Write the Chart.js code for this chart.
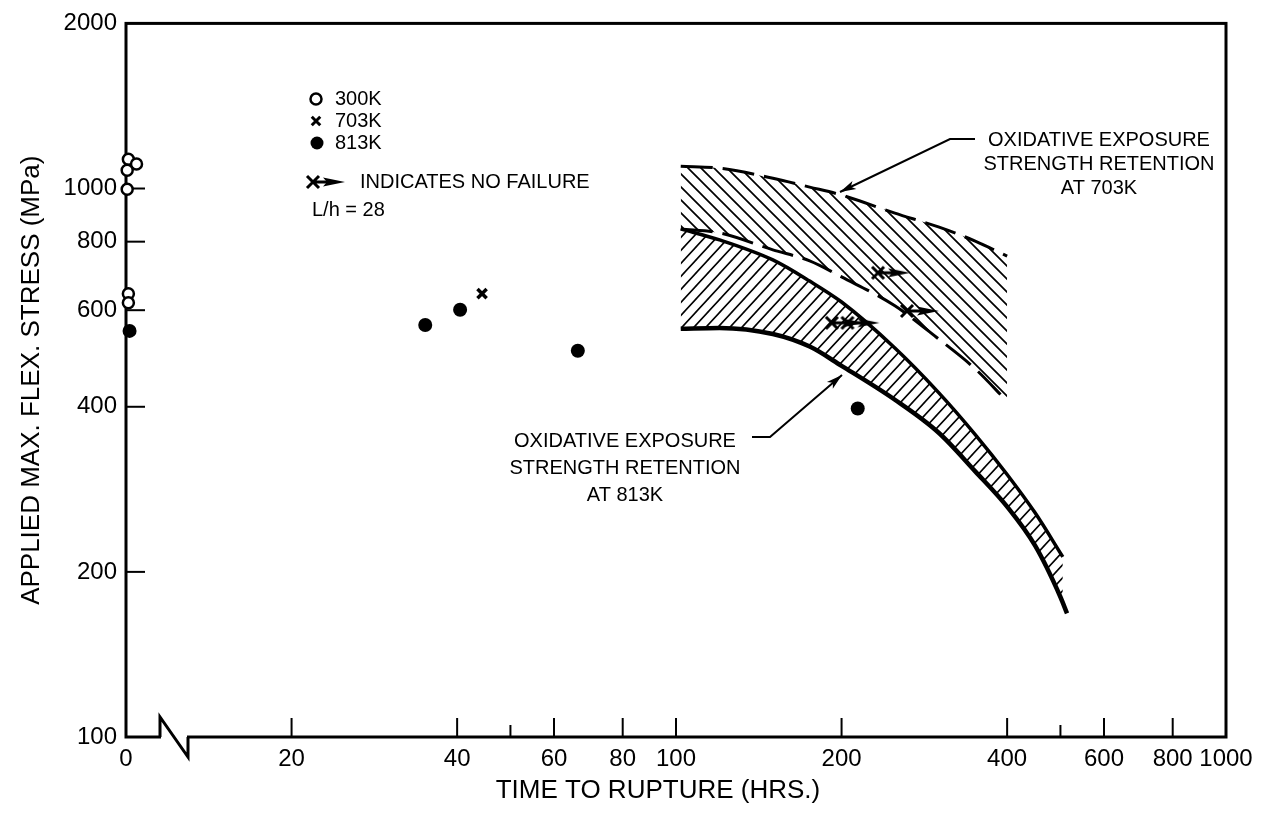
<!DOCTYPE html>
<html>
<head>
<meta charset="utf-8">
<script src="https://cdn.jsdelivr.net/npm/chart.js@4.4.0/dist/chart.umd.min.js"></script>
<style>
  html, body { margin: 0; padding: 0; background: #fff; }
  #wrap { width: 1269px; height: 814px; }
</style>
</head>
<body>
<div id="wrap"><canvas id="chart" width="1269" height="814"></canvas></div>
<script>
// axis ticks (x = 10 is drawn as the "0" in front of the axis break)
const xTicks = [10, 20, 40, 50, 60, 80, 100, 200, 400, 500, 600, 800, 1000];
const xMinor = [50, 500];
const yTicks = [100, 200, 400, 600, 800, 1000, 2000];

// test points: time to rupture (hrs) / stress (MPa)
const t300 = [10.1, 10.45, 10.05, 10.05, 10.1, 10.1];
const s300 = [1131, 1108, 1080, 997, 643, 619];
const t703 = [44.4];
const s703 = [643];
const t813 = [10.15, 35, 40.5, 66.3, 214];
const s813 = [550, 564, 601, 506, 397];
const tRunout = [192, 205, 233, 263];
const sRunout = [569, 569, 702, 598];

// strength retention bands
const tBand703 = [102, 120, 150, 175, 200, 250, 300, 350, 400];
const hi703 = [1098, 1089, 1044, 1006, 973, 902, 851, 802, 753];
const lo703 = [844, 830, 773, 738, 690, 611, 532, 469, 409];
const tHi813 = [102, 120, 150, 175, 200, 250, 300, 350, 400, 450, 505];
const hi813 = [844, 806, 741, 678, 621, 512, 425, 356, 301, 256, 213];
const tLo813 = [102, 120, 150, 175, 200, 250, 300, 350, 400, 450, 500, 514];
const lo813 = [555, 557, 543, 515, 475, 412, 359, 305, 263, 223, 180, 168];

const FONT = '"Liberation Sans", Arial, Helvetica, sans-serif';
Chart.defaults.font.family = FONT;
Chart.defaults.color = '#000';

const pts = (xs, ys) => xs.map((x, i) => ({ x: x, y: ys[i] }));
const canvas = document.getElementById('chart');
const mainCtx = canvas.getContext('2d');

// hatch patterns for the bands
function hatch(forward) {
    const c = document.createElement('canvas');
    const w = forward ? 12 : 13, h = 13;
    c.width = w; c.height = h;
    const g = c.getContext('2d');
    g.strokeStyle = '#000';
    g.lineWidth = 1.7;
    g.beginPath();
    if (forward) {
        g.moveTo(-1, h + 1); g.lineTo(w + 1, -1);
        g.moveTo(-2, 2); g.lineTo(2, -2);
        g.moveTo(w - 2, h + 2); g.lineTo(w + 2, h - 2);
    } else {
        g.moveTo(-1, -1); g.lineTo(w + 1, h + 1);
        g.moveTo(w - 2, -2); g.lineTo(w + 2, 2);
        g.moveTo(-2, h - 2); g.lineTo(2, h + 2);
    }
    g.stroke();
    return mainCtx.createPattern(c, 'repeat');
}

// "x with arrow" glyph for tests with no failure, x sits at the centre
function runoutGlyph() {
    const c = document.createElement('canvas');
    c.width = 72; c.height = 18;
    const g = c.getContext('2d');
    g.strokeStyle = '#000';
    g.fillStyle = '#000';
    g.lineWidth = 3;
    g.beginPath();
    g.moveTo(30, 3); g.lineTo(42, 15);
    g.moveTo(42, 3); g.lineTo(30, 15);
    g.moveTo(36, 9); g.lineTo(52, 9);
    g.stroke();
    g.beginPath();
    g.moveTo(46, 4.5); g.lineTo(68, 9); g.lineTo(46, 13.5); g.lineTo(50, 9);
    g.closePath();
    g.fill();
    return c;
}
const runoutImg = runoutGlyph();

function arrow(ctx, pts, headLen) {
    ctx.beginPath();
    ctx.moveTo(pts[0][0], pts[0][1]);
    for (let i = 1; i < pts.length; i++) ctx.lineTo(pts[i][0], pts[i][1]);
    ctx.stroke();
    const a = pts[pts.length - 2], b = pts[pts.length - 1];
    const ang = Math.atan2(b[1] - a[1], b[0] - a[0]);
    ctx.save();
    ctx.translate(b[0], b[1]);
    ctx.rotate(ang);
    ctx.beginPath();
    ctx.moveTo(0, 0);
    ctx.lineTo(-headLen, -4.5);
    ctx.lineTo(-headLen + 4, 0);
    ctx.lineTo(-headLen, 4.5);
    ctx.closePath();
    ctx.fill();
    ctx.restore();
}

// frame, inward ticks and the axis break
const framePlugin = {
    id: 'frame',
    beforeDatasetsDraw(chart) {
        const { ctx, chartArea: a, scales } = chart;
        ctx.save();
        ctx.strokeStyle = '#000';
        ctx.lineWidth = 3;
        ctx.strokeRect(a.left, a.top, a.right - a.left, a.bottom - a.top);
        ctx.lineWidth = 2;
        xTicks.forEach(v => {
            if (v === 10 || v === 1000) return;
            const px = scales.x.getPixelForValue(v);
            const len = xMinor.includes(v) ? 12 : 19;
            ctx.beginPath();
            ctx.moveTo(px, a.bottom);
            ctx.lineTo(px, a.bottom - len);
            ctx.stroke();
        });
        yTicks.forEach(v => {
            if (v === 100 || v === 2000) return;
            const py = scales.y.getPixelForValue(v);
            ctx.beginPath();
            ctx.moveTo(a.left, py);
            ctx.lineTo(a.left + 19, py);
            ctx.stroke();
        });
        // axis break
        ctx.fillStyle = '#fff';
        ctx.fillRect(161, a.bottom - 3, 26, 6);
        ctx.lineWidth = 3;
        ctx.beginPath();
        ctx.moveTo(160, a.bottom);
        ctx.lineTo(160, a.bottom - 20);
        ctx.lineTo(188, a.bottom + 20);
        ctx.lineTo(188, a.bottom);
        ctx.stroke();
        ctx.restore();
    }
};

// legend and band labels
const notesPlugin = {
    id: 'notes',
    afterDraw(chart) {
        const ctx = chart.ctx;
        const draw = Chart.helpers.drawPoint;
        ctx.save();
        ctx.strokeStyle = '#000';
        ctx.fillStyle = '#fff';
        ctx.lineWidth = 2.5;
        draw(ctx, { pointStyle: 'circle', radius: 5.5, borderWidth: 2.5, rotation: 0 }, 316, 99);
        ctx.lineWidth = 3;
        draw(ctx, { pointStyle: 'crossRot', radius: 6, borderWidth: 3, rotation: 0 }, 316, 121);
        ctx.fillStyle = '#000';
        draw(ctx, { pointStyle: 'circle', radius: 6.5, borderWidth: 0, rotation: 0 }, 317, 143);
        ctx.drawImage(runoutImg, 313 - runoutImg.width / 2, 182 - runoutImg.height / 2);

        ctx.font = '20px ' + FONT;
        ctx.textBaseline = 'middle';
        ctx.textAlign = 'left';
        ctx.fillText('300K', 335, 99);
        ctx.fillText('703K', 335, 121);
        ctx.fillText('813K', 335, 143);
        ctx.fillText('INDICATES NO FAILURE', 360, 182);
        ctx.fillText('L/h = 28', 312, 210);

        ctx.textAlign = 'center';
        ['OXIDATIVE EXPOSURE', 'STRENGTH RETENTION', 'AT 703K'].forEach((t, i) => ctx.fillText(t, 1099, 140 + i * 24));
        ['OXIDATIVE EXPOSURE', 'STRENGTH RETENTION', 'AT 813K'].forEach((t, i) => ctx.fillText(t, 625, 441 + i * 27));

        ctx.lineWidth = 2;
        arrow(ctx, [[975, 139], [950, 139], [840, 192]], 16);
        arrow(ctx, [[752, 437], [770, 437], [842, 375]], 16);
        ctx.restore();
    }
};

const bandLine = { showLine: true, pointRadius: 0, borderColor: '#000', cubicInterpolationMode: 'monotone' };

new Chart(canvas, {
    type: 'scatter',
    data: {
        datasets: [
            Object.assign({
                label: '703K band upper', data: pts(tBand703, hi703),
                borderWidth: 3, borderDash: [32, 10],
                backgroundColor: hatch(false), fill: '+1'
            }, bandLine),
            Object.assign({
                label: '703K band lower', data: pts(tBand703, lo703),
                borderWidth: 3, borderDash: [32, 10], fill: false
            }, bandLine),
            Object.assign({
                label: '813K band upper', data: pts(tHi813, hi813),
                borderWidth: 3.5, backgroundColor: hatch(true), fill: '+1'
            }, bandLine),
            Object.assign({
                label: '813K band lower', data: pts(tLo813, lo813),
                borderWidth: 4.5, fill: false
            }, bandLine),
            {
                label: '300K',
                data: pts(t300, s300),
                pointStyle: 'circle', pointRadius: 5.5, borderWidth: 2.5,
                borderColor: '#000', backgroundColor: '#fff', clip: false
            },
            {
                label: '703K',
                data: pts(t703, s703),
                pointStyle: 'crossRot', pointRadius: 6.5, borderWidth: 3.5,
                borderColor: '#000', clip: false
            },
            {
                label: '813K',
                data: pts(t813, s813),
                pointStyle: 'circle', pointRadius: 7, borderWidth: 0,
                backgroundColor: '#000', clip: false
            },
            {
                label: 'no failure',
                data: pts(tRunout, sRunout),
                pointStyle: runoutImg, pointRadius: 8, clip: false
            }
        ]
    },
    options: {
        responsive: false,
        animation: false,
        events: [],
        layout: { padding: { top: 22, right: 43, left: 0, bottom: 0 } },
        plugins: {
            legend: { display: false },
            tooltip: { enabled: false }
        },
        scales: {
            x: {
                type: 'logarithmic',
                min: 10, max: 1000,
                afterBuildTicks: s => { s.ticks = xTicks.map(v => ({ value: v })); },
                afterFit: s => { s.height = 77; },
                grid: { display: false, drawTicks: false },
                border: { display: false },
                ticks: {
                    autoSkip: false, maxRotation: 0, padding: 8,
                    color: '#000', font: { size: 24 },
                    callback: v => v === 10 ? '0' : (xMinor.includes(v) ? '' : String(v))
                },
                title: {
                    display: true,
                    // trailing spaces pull the centred title a little to the left, as in the original
                    text: 'TIME TO RUPTURE (HRS.)     ',
                    color: '#000', font: { size: 26 }, padding: { top: 0, bottom: 8 }
                }
            },
            y: {
                type: 'logarithmic',
                min: 100, max: 2000,
                afterBuildTicks: s => { s.ticks = yTicks.map(v => ({ value: v })); },
                afterFit: s => { s.width = 126; },
                grid: { display: false, drawTicks: false },
                border: { display: false },
                ticks: {
                    autoSkip: false, padding: 9,
                    color: '#000', font: { size: 24 },
                    callback: v => String(v)
                },
                title: {
                    display: true, text: 'APPLIED MAX. FLEX. STRESS (MPa)',
                    color: '#000', font: { size: 26 }, padding: { top: 16, bottom: 0 }
                }
            }
        }
    },
    plugins: [framePlugin, notesPlugin]
});
</script>
</body>
</html>
